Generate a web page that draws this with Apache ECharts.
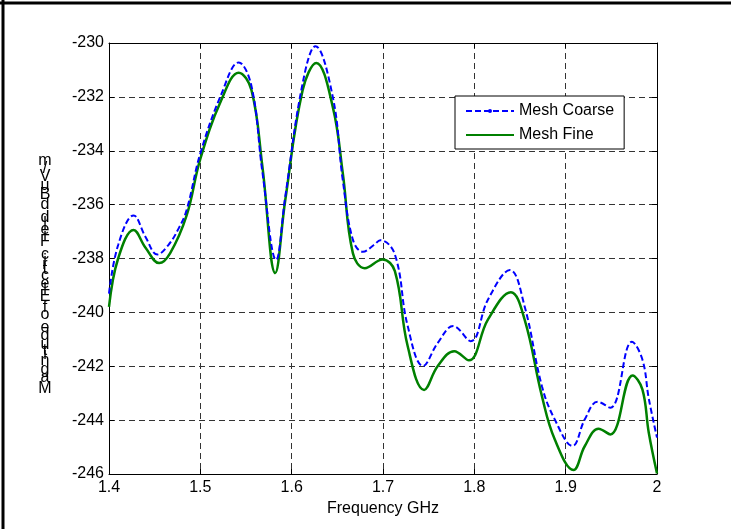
<!DOCTYPE html>
<html><head><meta charset="utf-8">
<script src="https://cdn.jsdelivr.net/npm/echarts@6/dist/echarts.min.js"></script>
<style>html,body{margin:0;padding:0;background:#fff}#c{width:731px;height:529px}</style>
</head><body><div id="c"></div>
<script>
const seriesNames = ['Mesh Coarse', 'Mesh Fine'];
const xAxisTitle = 'Frequency GHz';
const yAxisTitle = 'Magnitude of Electric Field dBuV/m';

const freqCoarse = [1.400, 1.410, 1.427, 1.440, 1.453, 1.465, 1.476, 1.485, 1.500, 1.523, 1.542, 1.556, 1.568, 1.583, 1.593, 1.612, 1.626, 1.645, 1.656, 1.667, 1.678, 1.690, 1.697, 1.713, 1.727, 1.744, 1.760, 1.777, 1.796, 1.815, 1.839, 1.855, 1.874, 1.888, 1.9075, 1.921, 1.935, 1.949, 1.9726, 1.984, 1.991, 2.000];
const coarseValues = [-239.3, -237.5, -236.4, -237.2, -237.85, -237.5, -236.9, -236.2, -234.1, -231.9, -230.72, -231.6, -234.8, -238.05, -235.7, -231.5, -230.12, -232.0, -235.1, -237.3, -237.75, -237.5, -237.32, -237.85, -240.5, -241.99, -241.13, -240.51, -241.07, -239.52, -238.43, -239.77, -242.74, -243.97, -244.96, -243.97, -243.32, -243.54, -241.09, -241.75, -243.2, -244.65];

const freqFine = [1.400, 1.410, 1.427, 1.440, 1.455, 1.467, 1.485, 1.500, 1.523, 1.542, 1.556, 1.568, 1.582, 1.593, 1.612, 1.627, 1.645, 1.656, 1.667, 1.680, 1.6995, 1.713, 1.727, 1.745, 1.760, 1.778, 1.794, 1.815, 1.840, 1.855, 1.874, 1.888, 1.9086, 1.921, 1.936, 1.949, 1.9733, 1.984, 1.991, 2.000];
const fineValues = [-239.8, -238.0, -236.94, -237.6, -238.17, -237.8, -236.4, -234.3, -232.12, -231.10, -231.75, -234.6, -238.54, -235.83, -231.75, -230.74, -232.37, -234.84, -237.8, -238.36, -238.04, -238.47, -241.25, -242.88, -241.99, -241.44, -241.78, -240.26, -239.25, -240.26, -243.11, -244.71, -245.85, -244.96, -244.32, -244.53, -242.34, -242.86, -244.47, -245.98];

const FONT = '"Liberation Sans", Arial, Helvetica, sans-serif';

const chart = echarts.init(document.getElementById('c'), null, {renderer: 'canvas'});

// upright glyphs stacked along the rotated baseline of the y-axis title
const cv = document.createElement('canvas').getContext('2d');
cv.font = '16px ' + FONT;
const titleGlyphs = [];
let acc = 0;
const baseY = 395;
const squeeze = 0.965;
for (const ch of yAxisTitle) {
  const w = cv.measureText(ch).width * squeeze;
  if (ch !== ' ') {
    titleGlyphs.push({
      type: 'text', x: 45, y: baseY - acc - w / 2,
      style: {text: ch, font: '16px ' + FONT, fill: '#000', align: 'center', verticalAlign: 'middle'}
    });
  }
  acc += w;
}

const boxAxis = {
  axisLine: {show: true, lineStyle: {color: '#000', width: 1}},
  axisTick: {show: true, inside: true, length: 5, lineStyle: {color: '#000'}},
  axisLabel: {show: false},
  splitLine: {show: false}
};

chart.setOption({
  animation: false,
  backgroundColor: '#fff',
  grid: {left: 109, right: 74, top: 43, bottom: 55},
  legend: {
    left: 455, top: 96, orient: 'vertical',
    padding: [6, 10, 5, 10], itemGap: 6, itemWidth: 48, itemHeight: 5,
    backgroundColor: '#fff', borderColor: '#000', borderWidth: 1, borderRadius: 0,
    textStyle: {fontFamily: FONT, fontSize: 16, color: '#000', lineHeight: 18},
    data: [
      {name: seriesNames[0]},
      {name: seriesNames[1], itemStyle: {opacity: 0}}
    ]
  },
  xAxis: [{
    type: 'value', min: 1.4, max: 2, interval: 0.1, position: 'bottom',
    name: xAxisTitle, nameLocation: 'middle', nameGap: 34,
    nameTextStyle: {fontFamily: FONT, fontSize: 16, color: '#000', verticalAlign: 'middle'},
    axisLine: {show: true, onZero: false, lineStyle: {color: '#000', width: 1}},
    axisTick: {show: true, inside: true, length: 5, lineStyle: {color: '#000'}},
    axisLabel: {fontFamily: FONT, fontSize: 16, color: '#000', margin: 6},
    splitLine: {show: true, lineStyle: {color: '#333', width: 1, type: [6, 4]}}
  }, Object.assign({type: 'value', min: 1.4, max: 2, interval: 0.1, position: 'top'}, boxAxis)],
  yAxis: [{
    type: 'value', min: -246, max: -230, interval: 2, position: 'left',
    axisLine: {show: true, onZero: false, lineStyle: {color: '#000', width: 1}},
    axisTick: {show: true, inside: true, length: 5, lineStyle: {color: '#000'}},
    axisLabel: {fontFamily: FONT, fontSize: 16, color: '#000', margin: 5},
    splitLine: {show: true, lineStyle: {color: '#333', width: 1, type: [6, 4]}}
  }, Object.assign({type: 'value', min: -246, max: -230, interval: 2, position: 'right'}, boxAxis)],
  series: [{
    name: seriesNames[0], type: 'line', smooth: 0.4,
    data: freqCoarse.map((f, i) => [f, coarseValues[i]]),
    symbol: 'circle', symbolSize: 4, showSymbol: false,
    itemStyle: {color: '#0000ff'},
    lineStyle: {color: '#0000ff', width: 2, type: [6, 3]},
    z: 3
  }, {
    name: seriesNames[1], type: 'line', smooth: 0.4,
    data: freqFine.map((f, i) => [f, fineValues[i]]),
    symbol: 'none',
    itemStyle: {color: '#008000'},
    lineStyle: {color: '#008000', width: 2.5},
    z: 2
  }],
  graphic: [
    {type: 'line', shape: {x1: 0, y1: 3, x2: 731, y2: 3}, style: {stroke: '#000', lineWidth: 3}},
    {type: 'line', shape: {x1: 3, y1: 0, x2: 3, y2: 529}, style: {stroke: '#000', lineWidth: 3}}
  ].concat(titleGlyphs)
});
</script></body></html>
